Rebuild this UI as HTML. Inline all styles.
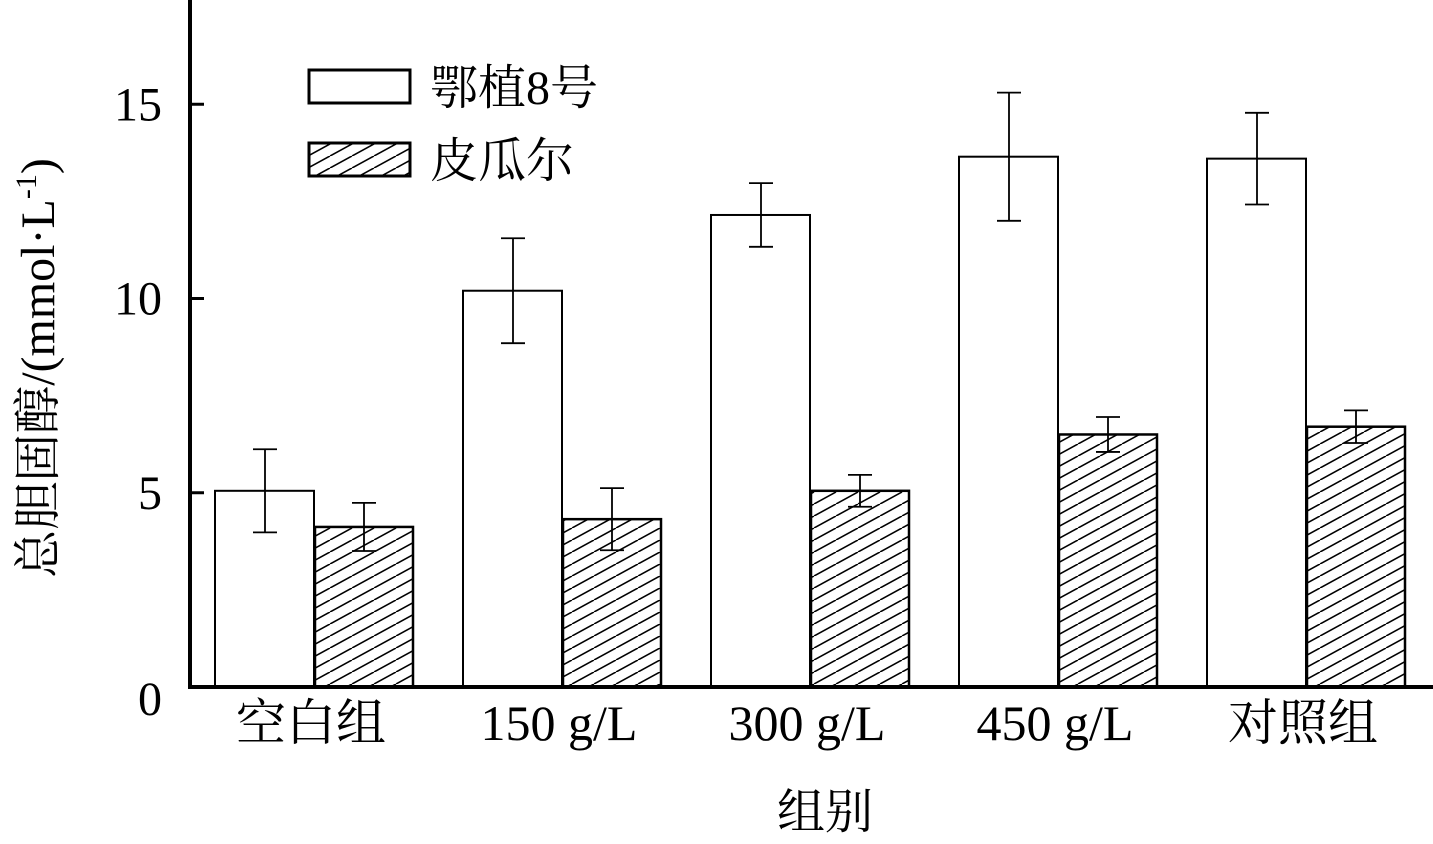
<!DOCTYPE html>
<html><head><meta charset="utf-8"><style>
body{margin:0;background:#fff}
svg text{font-family:"Liberation Serif","Noto Serif CJK SC",serif;fill:#000}
</style></head><body>
<svg width="1433" height="839" viewBox="0 0 1433 839">
<defs>
<pattern id="hatch" patternUnits="userSpaceOnUse" width="22" height="12">
<rect width="22" height="12" fill="#fff"/>
<line x1="0" y1="12" x2="22" y2="0" stroke="#000" stroke-width="1.6"/>
<line x1="-22" y1="12" x2="0" y2="0" stroke="#000" stroke-width="1.6"/>
<line x1="22" y1="12" x2="44" y2="0" stroke="#000" stroke-width="1.6"/>
</pattern>
</defs>
<g id="plot"></g>
<script>
const categories=["空白组","150 g/L","300 g/L","450 g/L","对照组"];
const seriesA=[5.05,10.2,12.15,13.65,13.6];
const errA=[1.07,1.35,0.82,1.65,1.18];
const seriesB=[4.12,4.32,5.05,6.5,6.7];
const errB=[0.62,0.8,0.41,0.45,0.42];
const yTicks=[0,5,10,15];
const NS="http://www.w3.org/2000/svg";
const g=document.getElementById('plot');
const y0=687,ppu=38.85,x0=190;
const yS=v=>y0-v*ppu;
const gx=i=>215+i*248;
function mk(t,a){const e=document.createElementNS(NS,t);for(const k in a)e.setAttribute(k,a[k]);g.appendChild(e);return e;}
categories.forEach((c,i)=>{
  const x=gx(i);
  let r=mk('rect',{x:x,y:yS(seriesA[i]),width:99,height:y0-yS(seriesA[i]),fill:'#fff',stroke:'#000','stroke-width':2});
  
  
  r=mk('rect',{x:x+100,y:yS(seriesB[i]),width:98,height:y0-yS(seriesB[i]),fill:'url(#hatch)',stroke:'#000','stroke-width':2.5});
  
  
  [[x+50,seriesA[i],errA[i],'a'],[x+149,seriesB[i],errB[i],'b']].forEach(([cx,v,e,s])=>{
    const p=mk('path',{d:`M${cx},${yS(v+e)}V${yS(v-e)}M${cx-12},${yS(v+e)}H${cx+12}M${cx-12},${yS(v-e)}H${cx+12}`,stroke:'#000','stroke-width':1.8,fill:'none'});
    
    
  });
  const t=mk('text',{x:x+96,y:740,'font-size':50,'text-anchor':'middle'});t.textContent=c;
  
  
});
yTicks.forEach(v=>{
  const l=mk('line',{x1:x0,x2:x0+14,y1:yS(v),y2:yS(v),stroke:'#000','stroke-width':3});
  
  
  const t=mk('text',{x:162,y:yS(v)+16+(v===0?12:0),'font-size':48,'text-anchor':'end'});t.textContent=v;
  
  
});
let ax=mk('line',{x1:x0,x2:x0,y1:0,y2:y0+2,stroke:'#000','stroke-width':4});


ax=mk('line',{x1:x0-2,x2:1433,y1:y0,y2:y0,stroke:'#000','stroke-width':4});


</script>
<g>
<rect x="309" y="70" width="101" height="33" fill="#fff" stroke="#000" stroke-width="3"/>
<text x="430" y="104" font-size="48">鄂植8号</text>
<rect x="309" y="143" width="101" height="33" fill="url(#hatch)" stroke="#000" stroke-width="3"/>
<text x="430" y="177" font-size="48">皮瓜尔</text>
</g>
<text x="825" y="828" font-size="48" text-anchor="middle">组别</text>
<text transform="translate(54,368) rotate(-90)" font-size="48" text-anchor="middle">总胆固醇/(mmol·L<tspan font-size="30" dy="-18">-1</tspan><tspan dy="18">)</tspan></text>
</svg>
</body></html>
